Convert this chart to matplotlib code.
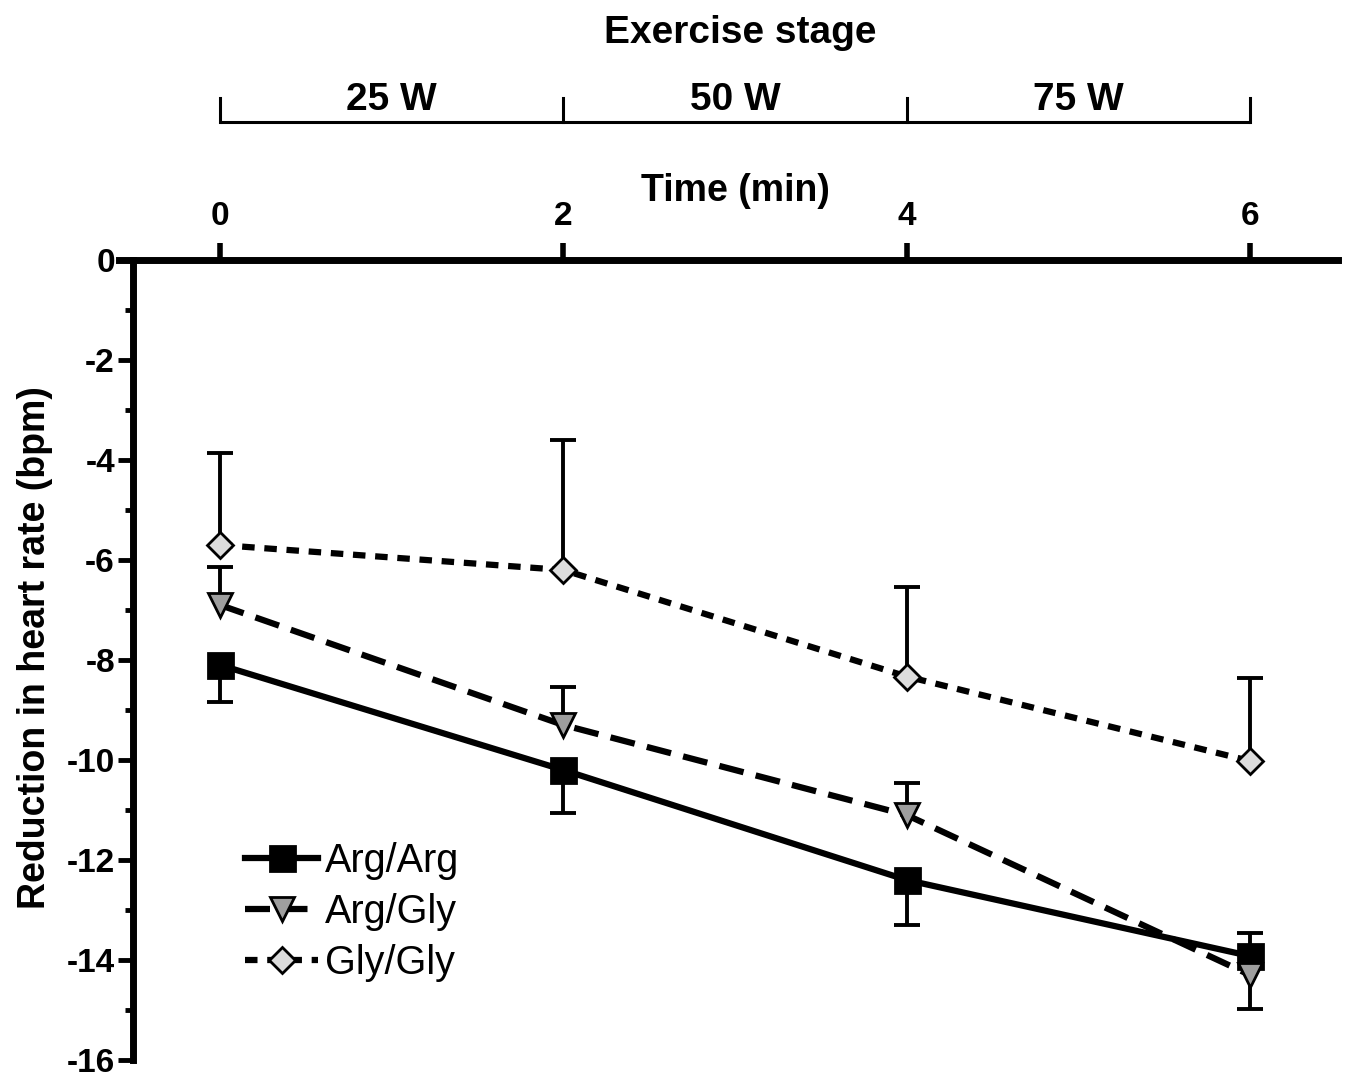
import matplotlib
matplotlib.use('Agg')
import matplotlib.pyplot as plt
import matplotlib.transforms as mtransforms
from matplotlib.ticker import MultipleLocator

plt.rcParams['font.family'] = ['Liberation Sans', 'DejaVu Sans']
plt.rcParams['lines.scale_dashes'] = False
plt.rcParams['axes.unicode_minus'] = False

# data
time_min = [0, 2, 4, 6]
stage_edges = [0, 2, 4, 6]
stage_labels = ['25 W', '50 W', '75 W']

arg_arg = [-8.1, -10.2, -12.4, -13.92]
arg_arg_up = [0, 0, 0, 0.47]
arg_arg_down = [0.74, 0.87, 0.9, 0]

arg_gly = [-6.9, -9.3, -11.1, -14.3]
arg_gly_up = [0.76, 0.76, 0.64, 0]
arg_gly_down = [0, 0, 0, 0.67]

gly_gly = [-5.7, -6.2, -8.33, -10.02]
gly_gly_up = [1.84, 2.6, 1.8, 1.67]
gly_gly_down = [0, 0, 0, 0]

W, H = 1349, 1081
fig = plt.figure(figsize=(W / 100, H / 100), dpi=100)
ax = fig.add_axes([119 / W, (H - 1060) / H, (1338 - 119) / W, 800 / H])


def one_sided_bars(x, y, up, down):
    # only draw the side that has a value, like the original
    for xi, yi, u, d in zip(x, y, up, down):
        for e in (u, -d):
            if e != 0:
                ax.plot([xi, xi], [yi, yi + e], color='black', lw=2.8, zorder=2,
                        solid_capstyle='butt')
                ax.plot([xi], [yi + e], marker='_', ms=19, mew=2.8, color='black', zorder=2)


one_sided_bars(time_min, arg_arg, arg_arg_up, arg_arg_down)
one_sided_bars(time_min, arg_gly, arg_gly_up, arg_gly_down)
one_sided_bars(time_min, gly_gly, gly_gly_up, gly_gly_down)

ax.plot(time_min, arg_arg, color='black', lw=4.5, marker='s', ms=18, mfc='black',
        mec='black', mew=2, label='Arg/Arg', zorder=3)
ax.plot(time_min, arg_gly, color='black', lw=4.5, linestyle=(0, (18, 9)), marker='v',
        ms=17, mfc='#9e9e9e', mec='black', mew=2, label='Arg/Gly', zorder=3)
ax.plot(time_min, gly_gly, color='black', lw=4.5, linestyle=(0, (9, 7)), marker='D',
        ms=13, mfc='#dcdcdc', mec='black', mew=2, label='Gly/Gly', zorder=3)

ax.set_xlim((119 - 220) / 171.67, (1338 - 220) / 171.67)
ax.set_ylim(-16, 0)

ax.spines['right'].set_visible(False)
ax.spines['bottom'].set_visible(False)
ax.spines['left'].set_position(('data', (133 - 220) / 171.67))
ax.spines['left'].set_linewidth(5)
ax.spines['top'].set_linewidth(5)

ax.set_xticks(time_min)
ax.yaxis.set_major_locator(MultipleLocator(2))
ax.yaxis.set_minor_locator(MultipleLocator(1))
ax.tick_params(axis='x', which='major', top=True, bottom=False, labeltop=True,
               labelbottom=False, direction='out', length=12, width=4, pad=8,
               labelsize=24)
ax.tick_params(axis='y', which='major', direction='out', length=11, width=3.5, pad=2,
               labelsize=24)
ax.tick_params(axis='y', which='minor', direction='out', length=6, width=3.5)
for lab in ax.get_xticklabels() + ax.get_yticklabels():
    lab.set_fontweight('bold')

ax.set_xlabel('Time (min)', fontsize=27, fontweight='bold')
ax.xaxis.set_label_position('top')
ax.xaxis.set_label_coords((735 - 119) / 1219, 1 + (260 - 201) / 800)
ax.xaxis.label.set_va('baseline')

ax.set_ylabel('Reduction in heart rate (bpm)', fontsize=27, fontweight='bold')
ax.yaxis.set_label_coords((53 - 119) / 1219, (1060 - 648) / 800)

# exercise stage bracket above the axis
trans = mtransforms.blended_transform_factory(ax.transData, ax.transAxes)
y_br = 1 + (260 - 122) / 800
y_tk = 1 + (260 - 98) / 800
ax.plot([stage_edges[0], stage_edges[-1]], [y_br, y_br], color='black', lw=2.2,
        transform=trans, clip_on=False, solid_capstyle='butt')
for e in stage_edges:
    ax.plot([e, e], [y_br, y_tk], color='black', lw=2.2, transform=trans, clip_on=False)
for lab, a, b in zip(stage_labels, stage_edges[:-1], stage_edges[1:]):
    ax.text((a + b) / 2, 1 + (260 - 110) / 800, lab, transform=trans, ha='center',
            va='baseline', fontsize=28, fontweight='bold')
fig.text(740 / W, 1 - 43 / H, 'Exercise stage', ha='center', va='baseline', fontsize=28,
         fontweight='bold')

ax.legend(loc='upper left', bbox_to_anchor=(245 / W, 1 - 842 / H),
          bbox_transform=fig.transFigure, frameon=False, fontsize=28.5, borderpad=0,
          borderaxespad=0, handlelength=1.85, handletextpad=0.18, labelspacing=0.33)

fig.savefig('out.png', dpi=100)
